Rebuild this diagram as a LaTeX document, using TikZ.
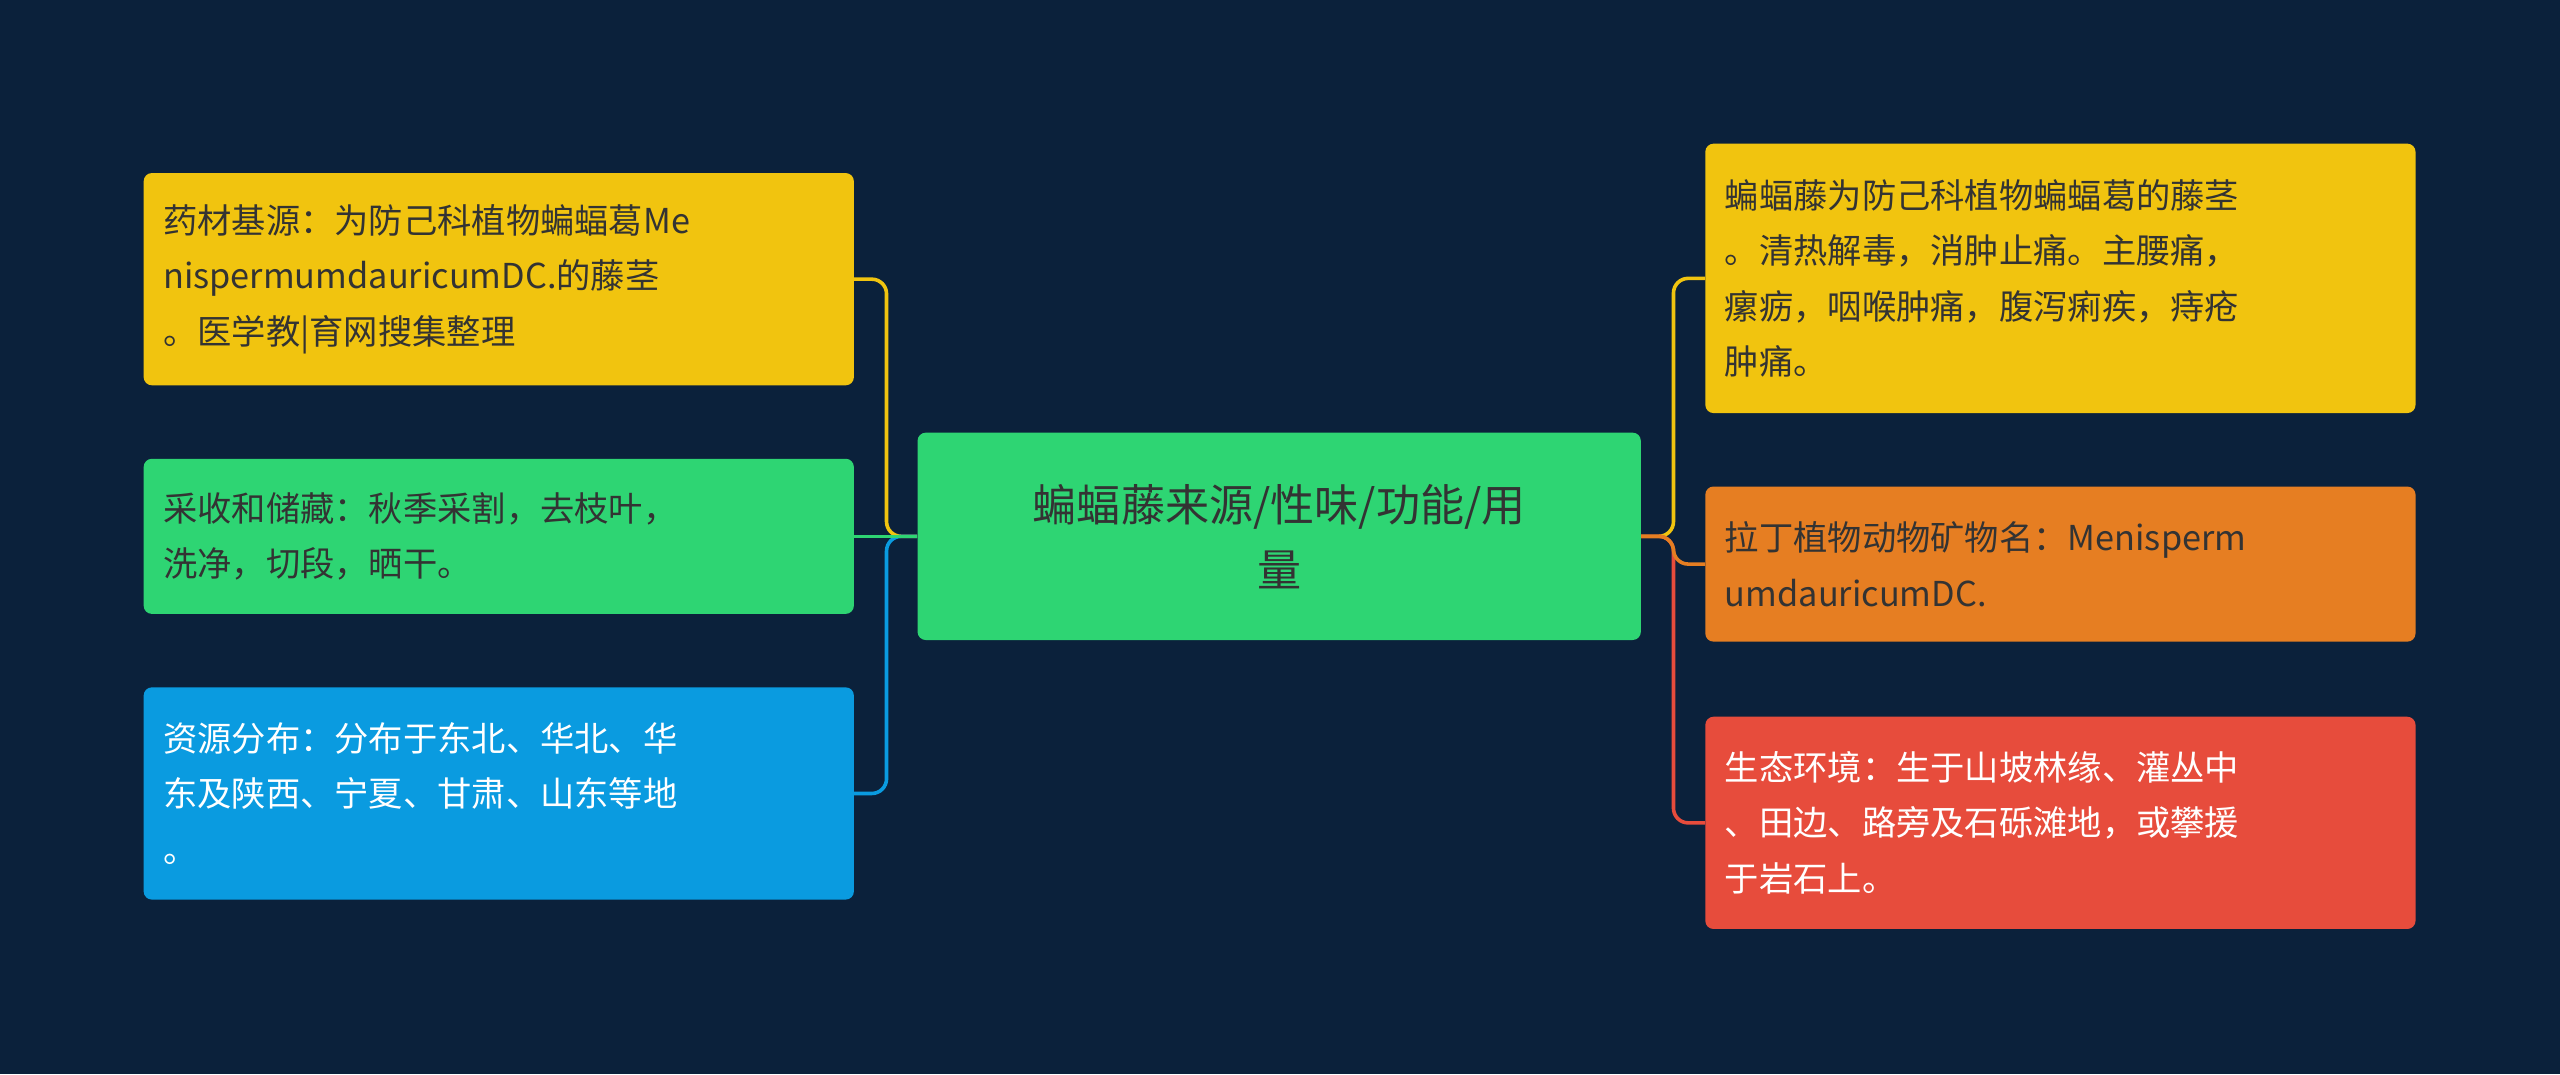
\documentclass[tikz,border=0pt]{standalone}
\usepackage{fontspec}
\setmainfont{Noto Sans CJK SC}
\definecolor{bg}{HTML}{0B213B}
\definecolor{cy}{HTML}{F1C40F}
\definecolor{cg}{HTML}{2ED573}
\definecolor{cb}{HTML}{0A9BE0}
\definecolor{co}{HTML}{E67E22}
\definecolor{cr}{HTML}{E74C3C}
\definecolor{tx}{HTML}{333333}
\begin{document}
\begin{tikzpicture}[x=1pt,y=-1pt,
  box/.style={rounded corners=5pt,minimum width=435pt,text width=411pt,align=left,inner sep=0pt,font=\fontsize{21}{34}\selectfont,text=tx,anchor=center},
  link/.style={line width=2.2pt,rounded corners=9pt}]
\fill[bg] (0,0) rectangle (1568,658);
\useasboundingbox (0,0) rectangle (1568,658);
\node[box,fill=cg,minimum width=443pt,minimum height=127pt,text width=420pt,align=center,font=\fontsize{27}{40}\selectfont] (c) at (783.5,328.5) {蝙蝠藤来源/性味/功能/用\\量};
\node[box,fill=cy,minimum height=130pt] (l1) at (305.5,171) {药材基源：为防己科植物蝙蝠葛Me\\nispermumdauricumDC.的藤茎\\。医学教|育网搜集整理};
\node[box,fill=cg,minimum height=95pt] (l2) at (305.5,328.5) {采收和储藏：秋季采割，去枝叶，\\洗净，切段，晒干。};
\node[box,fill=cb,minimum height=130pt,text=white] (l3) at (305.5,486) {资源分布：分布于东北、华北、华\\东及陕西、宁夏、甘肃、山东等地\\。};
\node[box,fill=cy,minimum height=165pt] (r1) at (1262,170.5) {蝙蝠藤为防己科植物蝙蝠葛的藤茎\\。清热解毒，消肿止痛。主腰痛，\\瘰疬，咽喉肿痛，腹泻痢疾，痔疮\\肿痛。};
\node[box,fill=co,minimum height=95pt] (r2) at (1262,345.5) {拉丁植物动物矿物名：Menisperm\\umdauricumDC.};
\node[box,fill=cr,minimum height=130pt,text=white] (r3) at (1262,504) {生态环境：生于山坡林缘、灌丛中\\、田边、路旁及石砾滩地，或攀援\\于岩石上。};
\coordinate (bl) at (543,328.5);
\coordinate (br) at (1025,328.5);
\draw[link,cy] (c.west) -- (bl) |- (l1.east);
\draw[link,cb] (c.west) -- (bl) |- (l3.east);
\draw[link,cg] (c.west) -- (l2.east);
\draw[link,cy] (c.east) -- (br) |- (r1.west);
\draw[link,cr] (c.east) -- (br) |- (r3.west);
\draw[link,co] (c.east) -- (br) |- (r2.west);
\end{tikzpicture}
\end{document}
